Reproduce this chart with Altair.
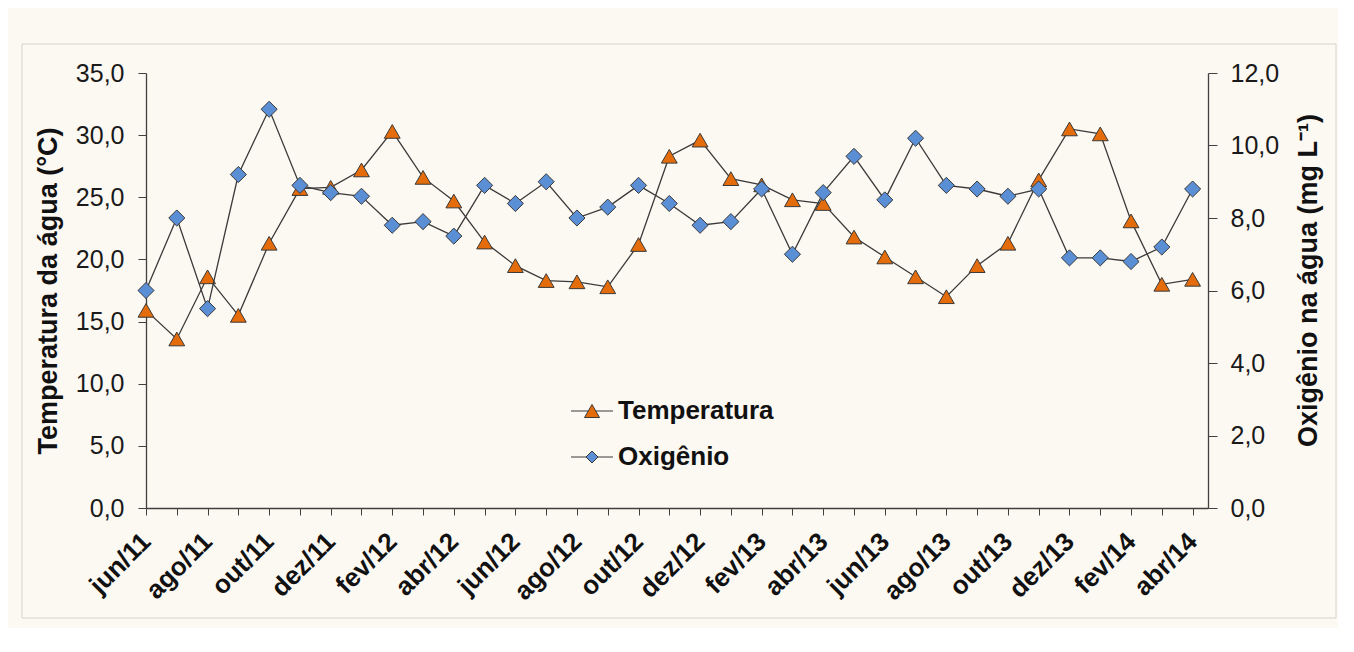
import altair as alt
import pandas as pd

months = ["jun/11", "jul/11", "ago/11", "set/11", "out/11", "nov/11", "dez/11",
          "jan/12", "fev/12", "mar/12", "abr/12", "mai/12", "jun/12", "jul/12",
          "ago/12", "set/12", "out/12", "nov/12", "dez/12", "jan/13", "fev/13",
          "mar/13", "abr/13", "mai/13", "jun/13", "jul/13", "ago/13", "set/13",
          "out/13", "nov/13", "dez/13", "jan/14", "fev/14", "mar/14", "abr/14"]

temperatura = [15.9, 13.6, 18.6, 15.5, 21.3, 25.7, 25.8, 27.2, 30.3, 26.6, 24.7,
               21.4, 19.5, 18.3, 18.2, 17.8, 21.2, 28.3, 29.6, 26.5, 26.0, 24.8,
               24.5, 21.8, 20.2, 18.6, 17.0, 19.5, 21.3, 26.4, 30.5, 30.1, 23.1,
               18.0, 18.4]

oxigenio = [6.0, 8.0, 5.5, 9.2, 11.0, 8.9, 8.7, 8.6, 7.8, 7.9, 7.5, 8.9, 8.4,
            9.0, 8.0, 8.3, 8.9, 8.4, 7.8, 7.9, 8.8, 7.0, 8.7, 9.7, 8.5, 10.2,
            8.9, 8.8, 8.6, 8.8, 6.9, 6.9, 6.8, 7.2, 8.8]

series_names = ["Temperatura", "Oxigênio"]
temp_ticks = [0, 5, 10, 15, 20, 25, 30, 35]
oxy_ticks = [0, 2, 4, 6, 8, 10, 12]

ORANGE = "#e46c0a"
BLUE = "#5a8fd6"
LINE = "#3a3a3a"
FONT = "Liberation Sans"

df = pd.DataFrame({
    "i": list(range(len(months))),
    "mes": months,
    "temp": temperatura,
    "oxy": oxigenio,
})

label_js = "[" + ",".join("'%s'" % m for m in months) + "]"
x_enc = alt.X(
    "i:Q",
    scale=alt.Scale(domain=[0, 34.5], nice=False, zero=False),
    axis=alt.Axis(
        values=list(range(len(months))),
        labelExpr="datum.value % 2 == 0 ? " + label_js + "[datum.value] : ''",
        title=None, labelAngle=315, labelAlign="right", labelBaseline="middle",
        labelFontSize=26, labelFontWeight="bold", labelFont=FONT,
        labelColor="#111111", tickSize=7, labelPadding=22,
        labelFlush=False, labelOverlap=False, grid=False,
        domainColor="#404040", tickColor="#404040", domainWidth=1.3,
    ),
)

fmt = "replace(format(datum.value, '.1f'), '.', ',')"

y_temp = alt.Y(
    "temp:Q",
    scale=alt.Scale(domain=[0, 35], nice=False, zero=True),
    axis=alt.Axis(
        values=temp_ticks, labelExpr=fmt, orient="left",
        title="Temperatura da água (°C)", titleFontSize=27, titleFontWeight="bold",
        titleFont=FONT, titleColor="#111111", titlePadding=13,
        labelFontSize=25, labelFont=FONT, labelColor="#1a1a1a",
        tickSize=8, labelPadding=14, grid=False, labelFlush=False,
        labelOverlap=False, domainColor="#404040", tickColor="#404040",
        domainWidth=1.3,
    ),
)

y_oxy = alt.Y(
    "oxy:Q",
    scale=alt.Scale(domain=[0, 12], nice=False, zero=True),
    axis=alt.Axis(
        values=oxy_ticks, labelExpr=fmt, orient="right",
        title="Oxigênio na água (mg L⁻¹)", titleFontSize=27, titleFontWeight="bold",
        titleFont=FONT, titleColor="#111111", titlePadding=44, titleAngle=270,
        titleY=207,
        labelFontSize=25, labelFont=FONT, labelColor="#1a1a1a",
        tickSize=9, labelPadding=13, grid=False, labelFlush=False,
        labelOverlap=False, domainColor="#404040", tickColor="#404040",
        domainWidth=1.3,
    ),
)

base = alt.Chart(df)

frame = alt.Chart(pd.DataFrame({"a": [0]})).mark_rect(
    fill=None, stroke="#d6d2cc", strokeWidth=1
).encode(
    x=alt.value(-124), x2=alt.value(1190), y=alt.value(-29), y2=alt.value(545)
)

temp_line = base.mark_line(color=LINE, strokeWidth=1.3).encode(x=x_enc, y=y_temp)
temp_pts = base.mark_point(
    shape="triangle-up", filled=True, fill=ORANGE, stroke="#3a3a3a",
    strokeWidth=1, size=250, opacity=1
).encode(x=x_enc, y=y_temp)

tri_path = "M-2.8,0H-0.5M0.5,0H2.8M0,-0.87L1,0.87L-1,0.87Z"
dia_path = "M-2.8,0H-0.8M0.8,0H2.8M0,-0.8L0.8,0L0,0.8L-0.8,0Z"

legend_df = pd.DataFrame({"i": [0, 0], "temp": [0, 0], "serie": series_names})
leg = alt.Legend(title=None)
legend_layer = alt.Chart(legend_df).transform_filter("datum.i > 100").mark_point(
    filled=False, size=225, opacity=1, strokeWidth=1
).encode(
    x=x_enc, y=y_temp,
    shape=alt.Shape("serie:N", scale=alt.Scale(domain=series_names,
                                               range=[tri_path, dia_path]),
                    legend=leg),
    fill=alt.Fill("serie:N", scale=alt.Scale(domain=series_names,
                                             range=[ORANGE, BLUE]),
                  legend=leg),
    stroke=alt.Stroke("serie:N", scale=alt.Scale(domain=series_names,
                                                 range=[LINE, LINE]),
                      legend=leg),
)

oxy_line = base.mark_line(color=LINE, strokeWidth=1.3).encode(x=x_enc, y=y_oxy)
oxy_pts = base.mark_point(
    shape="diamond", filled=True, fill=BLUE, stroke="#3a3a3a",
    strokeWidth=1, size=260, opacity=1
).encode(x=x_enc, y=y_oxy)

temp_group = alt.layer(frame, temp_line, temp_pts, legend_layer)
oxy_group = alt.layer(oxy_line, oxy_pts)

chart = alt.layer(temp_group, oxy_group).resolve_scale(y="independent").properties(
    width=1062, height=435,
    autosize=alt.AutoSizeParams(type="none"),
    padding={"left": 138, "top": 65, "right": 130, "bottom": 120},
).configure(
    background="#fcf8f2",
).configure_view(
    stroke=None,
).configure_legend(
    orient="none", legendX=433, legendY=325, padding=0,
    labelFont=FONT, labelFontSize=26, labelFontWeight="bold", labelColor="#111111",
    labelOffset=13, rowPadding=20, symbolStrokeWidth=1, symbolSize=225,
)

chart.save("out.html", embed_options={"renderer": "svg", "actions": False})
